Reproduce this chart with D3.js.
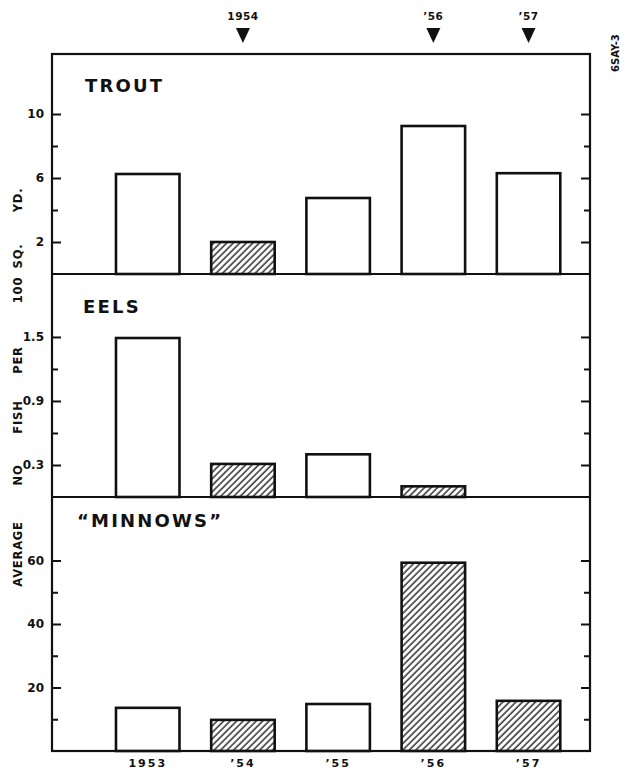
<!DOCTYPE html>
<html>
<head>
<meta charset="utf-8">
<script src="https://cdn.jsdelivr.net/npm/d3@7"></script>
<style>
  html, body { margin: 0; padding: 0; background: #fff; }
  svg { display: block; }
  text { font-family: "DejaVu Sans", sans-serif; font-weight: bold; fill: #111; }
</style>
</head>
<body>
<svg id="chart"></svg>
<script>
// Years along the bottom
const years = ["1953", "\u201954", "\u201955", "\u201956", "\u201957"];

// Average number of fish per 100 sq. yd.
const troutValues  = [6.25, 2.0, 4.75, 9.25, 6.3];
const eelValues    = [1.49, 0.31, 0.40, 0.10, 0];
const minnowValues = [13.6, 9.8, 14.8, 59.3, 15.8];

// which bars are hatched
const troutHatched  = [false, true, false, false, false];
const eelHatched    = [false, true, false, true, false];
const minnowHatched = [false, true, false, true, true];

// axis ticks
const troutTicks  = [2, 6, 10],      troutMinor  = [4, 8],      troutMax  = 13.75;
const eelTicks    = [0.3, 0.9, 1.5], eelMinor    = [0.6, 1.2],  eelMax    = 2.09;
const minnowTicks = [20, 40, 60],    minnowMinor = [10, 30, 50], minnowMax = 80;

// markers above the plot
const markerYears  = ["\u201954", "\u201956", "\u201957"];
const markerLabels = ["1954", "\u201956", "\u201957"];

const yTitleWords = ["AVERAGE", "NO", "FISH", "PER", "100", "SQ.", "YD."];
const yTitleCenters = [554, 475, 417, 360, 290, 256, 200];

const W = 628, H = 770;
const left = 52, right = 590;

const svg = d3.select("#chart").attr("width", W).attr("height", H);

// hatch pattern
svg.append("defs").append("pattern")
    .attr("id", "hatch")
    .attr("patternUnits", "userSpaceOnUse")
    .attr("width", 4.6)
    .attr("height", 4.6)
    .attr("patternTransform", "rotate(45)")
  .append("line")
    .attr("x1", 1).attr("y1", 0)
    .attr("x2", 1).attr("y2", 4.6)
    .attr("stroke", "#111")
    .attr("stroke-width", 1.3);

const x = d3.scaleBand()
    .domain(years)
    .range([left, right])
    .paddingInner(0.333)
    .paddingOuter(0.492)
    .align(0.683);

const panels = [
  { name: "TROUT", values: troutValues, hatched: troutHatched, ticks: troutTicks, minor: troutMinor, max: troutMax, top: 54, bottom: 274, fmt: d3.format("d"), titleY: 92, titleX: 85 },
  { name: "EELS", values: eelValues, hatched: eelHatched, ticks: eelTicks, minor: eelMinor, max: eelMax, top: 274, bottom: 497, fmt: d3.format(".1f"), titleY: 313, titleX: 83 },
  { name: "\u201CMINNOWS\u201D", values: minnowValues, hatched: minnowHatched, ticks: minnowTicks, minor: minnowMinor, max: minnowMax, top: 497, bottom: 751, fmt: d3.format("d"), titleY: 527, titleX: 77 }
];

panels.forEach(p => {
  const y = d3.scaleLinear().domain([0, p.max]).range([p.bottom, p.top]);
  const g = svg.append("g");

  // bars
  const data = years.map((yr, i) => ({ yr, v: p.values[i], h: p.hatched[i] })).filter(d => d.v > 0);
  g.selectAll("rect.bar")
    .data(data)
    .join("rect")
      .attr("class", "bar")
      .attr("x", d => x(d.yr))
      .attr("y", d => y(d.v))
      .attr("width", x.bandwidth())
      .attr("height", d => y(0) - y(d.v))
      .attr("fill", d => d.h ? "url(#hatch)" : "#fff")
      .attr("stroke", "#111")
      .attr("stroke-width", 2.6);

  // left axis: major + minor ticks pointing inward
  const la = g.append("g").attr("transform", `translate(${left},0)`)
    .call(d3.axisLeft(y).tickValues(p.ticks).tickSizeInner(-9).tickSizeOuter(0).tickPadding(8).tickFormat(p.fmt));
  g.append("g").attr("transform", `translate(${left},0)`)
    .call(d3.axisLeft(y).tickValues(p.minor).tickSizeInner(-6).tickSizeOuter(0).tickFormat(""));
  // right axis mirrored
  g.append("g").attr("transform", `translate(${right},0)`)
    .call(d3.axisRight(y).tickValues(p.ticks).tickSizeInner(-9).tickSizeOuter(0).tickFormat(""));
  g.append("g").attr("transform", `translate(${right},0)`)
    .call(d3.axisRight(y).tickValues(p.minor).tickSizeInner(-6).tickSizeOuter(0).tickFormat(""));

  g.selectAll(".domain").remove();
  g.selectAll(".tick line").attr("stroke", "#111").attr("stroke-width", 2);
  la.selectAll(".tick text")
    .style("font-family", "'DejaVu Sans', sans-serif")
    .style("font-weight", "bold")
    .style("font-size", "12px")
    .attr("fill", "#111");

  // panel baseline / divider
  g.append("line")
    .attr("x1", left).attr("x2", right)
    .attr("y1", y(0)).attr("y2", y(0))
    .attr("stroke", "#111").attr("stroke-width", 2.2);

  // panel title
  g.append("text")
    .attr("x", p.titleX)
    .attr("y", p.titleY)
    .attr("font-size", 18)
    .attr("letter-spacing", 2.2)
    .text(p.name);
});

// outer frame
svg.append("rect")
  .attr("x", left).attr("y", 54)
  .attr("width", right - left).attr("height", 751 - 54)
  .attr("fill", "none")
  .attr("stroke", "#111")
  .attr("stroke-width", 2.2);

// bottom year labels
svg.append("g").selectAll("text")
  .data(years)
  .join("text")
    .attr("x", d => x(d) + x.bandwidth() / 2)
    .attr("y", 767)
    .attr("text-anchor", "middle")
    .attr("font-size", 11)
    .attr("letter-spacing", 2)
    .text(d => d);

// top markers
const mk = svg.append("g").selectAll("g")
  .data(markerYears)
  .join("g")
    .attr("transform", d => `translate(${x(d) + x.bandwidth() / 2},0)`);
mk.append("path")
  .attr("d", "M-7,28 L7,28 L0,43 Z")
  .attr("fill", "#111");
mk.append("text")
  .attr("y", 20)
  .attr("text-anchor", "middle")
  .attr("font-size", 10.5)
  .attr("letter-spacing", 0.5)
  .text((d, i) => markerLabels[i]);

// rotated y title, word by word
svg.append("g").selectAll("text")
  .data(yTitleWords)
  .join("text")
    .attr("transform", (d, i) => `translate(22,${yTitleCenters[i]}) rotate(-90)`)
    .attr("text-anchor", "middle")
    .attr("font-size", 11.5)
    .attr("letter-spacing", 0.8)
    .text(d => d);

// figure id at the right margin
svg.append("text")
  .attr("transform", "translate(619,72) rotate(-90)")
  .attr("font-size", 10)
  .text("6SAY-3");
</script>
</body>
</html>
